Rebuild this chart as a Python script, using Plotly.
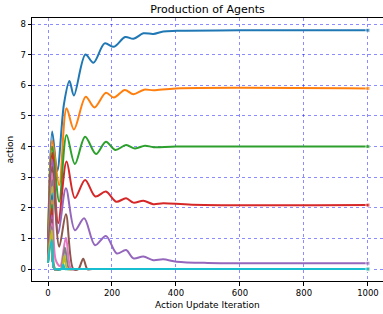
import plotly.graph_objects as go

# ---- data ----
colors = ["#1f77b4", "#ff7f0e", "#2ca02c", "#d62728", "#9467bd",
          "#8c564b", "#e377c2", "#7f7f7f", "#bcbd22", "#17becf"]

# first batch of agents (oscillating series)
x_blue = [0, 13, 29, 50, 67, 81, 117, 142, 177, 206, 241, 267, 298, 329, 360, 402, 600, 1000]
y_blue = [0.6, 4.49, 3.2, 5.4, 6.14, 5.67, 7.01, 6.74, 7.37, 7.26, 7.58, 7.52, 7.70, 7.68, 7.76, 7.78, 7.80, 7.80]

x_orange = [0, 13, 35, 58, 81, 118, 145, 181, 206, 240, 267, 300, 330, 400, 1000]
y_orange = [0.55, 4.2, 2.74, 5.25, 4.56, 5.63, 5.28, 5.76, 5.6, 5.85, 5.71, 5.86, 5.84, 5.9, 5.9]

x_green = [0, 13, 35, 58, 84, 116, 150, 181, 210, 244, 272, 303, 330, 400, 1000]
y_green = [0.5, 4.0, 2.2, 4.38, 3.43, 4.32, 3.76, 4.16, 3.89, 4.05, 3.94, 4.03, 3.98, 4.0, 4.0]

x_red = [0, 13, 32, 58, 84, 116, 148, 181, 213, 244, 267, 298, 329, 360, 450, 1000]
y_red = [0.45, 3.8, 1.5, 3.51, 2.32, 2.91, 2.37, 2.53, 2.2, 2.31, 2.17, 2.23, 2.12, 2.15, 2.1, 2.09]

x_purple = [0, 13, 32, 56, 84, 113, 147, 181, 215, 244, 267, 298, 329, 360, 402, 500, 1000]
y_purple = [0.4, 3.56, 1.17, 2.64, 1.27, 1.66, 0.78, 1.08, 0.51, 0.62, 0.35, 0.41, 0.29, 0.32, 0.24, 0.2, 0.19]

x_brown = [0, 13, 35, 56, 79, 95, 110, 123, 140, 1000]
y_brown = [0.35, 3.34, 0.73, 1.79, 0.0, 0.0, 0.34, 0.0, 0.0, 0.0]

x_pink = [0, 13, 24, 38, 56, 72, 90, 1000]
y_pink = [0.3, 3.13, 0.3, 0.1, 1.02, 0.0, 0.0, 0.0]

x_gray = [0, 13, 23, 40, 53, 66, 85, 1000]
y_gray = [0.28, 2.9, 0.0, 0.0, 0.7, 0.0, 0.0, 0.0]

x_olive = [0, 13, 22, 42, 51, 60, 80, 1000]
y_olive = [0.25, 2.69, 0.0, 0.0, 0.43, 0.0, 0.0, 0.0]

x_cyan = [0, 13, 21, 43, 48, 53, 70, 1000]
y_cyan = [0.22, 2.47, 0.0, 0.0, 0.15, 0.0, 0.0, 0.0]

# second batch of agents (drop to zero right after the initial spike)
x_batch2 = [0, 12, 20, 35, 1000]
y_blue2 = [0.3, 2.4, 0.0, 0.0, 0.0]
y_orange2 = [0.3, 2.25, 0.0, 0.0, 0.0]
y_green2 = [0.28, 2.1, 0.0, 0.0, 0.0]
y_red2 = [0.27, 1.98, 0.0, 0.0, 0.0]
y_purple2 = [0.25, 1.76, 0.0, 0.0, 0.0]
y_brown2 = [0.24, 1.62, 0.0, 0.0, 0.0]
y_pink2 = [0.22, 1.49, 0.0, 0.0, 0.0]
y_gray2 = [0.21, 1.38, 0.0, 0.0, 0.0]
y_olive2 = [0.2, 1.27, 0.0, 0.0, 0.0]
y_cyan2 = [0.2, 0.95, 0.0, 0.0, 0.0]

x_ticks = [0, 200, 400, 600, 800, 1000]
y_ticks = [0, 1, 2, 3, 4, 5, 6, 7, 8]

series = [
    (x_blue, y_blue), (x_orange, y_orange), (x_green, y_green), (x_red, y_red),
    (x_purple, y_purple), (x_brown, y_brown), (x_pink, y_pink), (x_gray, y_gray),
    (x_olive, y_olive), (x_cyan, y_cyan),
    (x_batch2, y_blue2), (x_batch2, y_orange2), (x_batch2, y_green2), (x_batch2, y_red2),
    (x_batch2, y_purple2), (x_batch2, y_brown2), (x_batch2, y_pink2), (x_batch2, y_gray2),
    (x_batch2, y_olive2), (x_batch2, y_cyan2),
]

fig = go.Figure()
for i, (xs, ys) in enumerate(series):
    n = len(xs)
    fig.add_trace(go.Scatter(
        x=xs, y=ys, mode="lines+markers",
        line=dict(color=colors[i % 10], width=2, shape="spline", smoothing=0.9),
        marker=dict(size=[0] * (n - 1) + [4], symbol="square", color=colors[i % 10]),
        showlegend=False, hoverinfo="skip",
    ))

font = "DejaVu Sans"
grid = "rgba(0,0,255,0.45)"
fig.update_layout(
    width=383, height=314,
    margin=dict(l=32, r=0, t=18, b=33),
    paper_bgcolor="white", plot_bgcolor="white",
    font=dict(family=font, size=9, color="black"),
    title=dict(text="Production of Agents", x=0.5, xref="paper", xanchor="center",
               y=1 - 9 / 314, yref="container", yanchor="middle",
               font=dict(family=font, size=11, color="black")),
    annotations=[
        dict(text="Action Update Iteration", x=0.5, xref="paper", y=-24 / 263, yref="paper",
             xanchor="center", yanchor="middle", showarrow=False,
             font=dict(family=font, size=9, color="black")),
        dict(text="action", x=-23 / 351, xref="paper", y=0.5, yref="paper", textangle=-90,
             xanchor="center", yanchor="middle", showarrow=False,
             font=dict(family=font, size=9, color="black")),
    ],
)
fig.update_xaxes(range=[-50, 1047], tickvals=x_ticks, ticks="outside", ticklen=3.5,
                 tickwidth=0.8, tickcolor="black", showline=True, linecolor="black",
                 linewidth=1, mirror=True, showgrid=True, gridcolor=grid, gridwidth=0.8,
                 griddash="dot", zeroline=False, tickfont=dict(size=8.5), automargin=False)
fig.update_yaxes(range=[-0.39, 8.2], tickvals=y_ticks, ticks="outside", ticklen=3.5,
                 tickwidth=0.8, tickcolor="black", showline=True, linecolor="black",
                 linewidth=1, mirror=False, showgrid=True, gridcolor=grid, gridwidth=0.8,
                 griddash="dot", zeroline=False, tickfont=dict(size=8.5), automargin=False)

fig.write_html(
    "out.html",
    config={"displayModeBar": False},
    post_script="document.body.style.margin='0';document.body.style.padding='0';"
                "document.body.style.overflow='hidden';",
)
